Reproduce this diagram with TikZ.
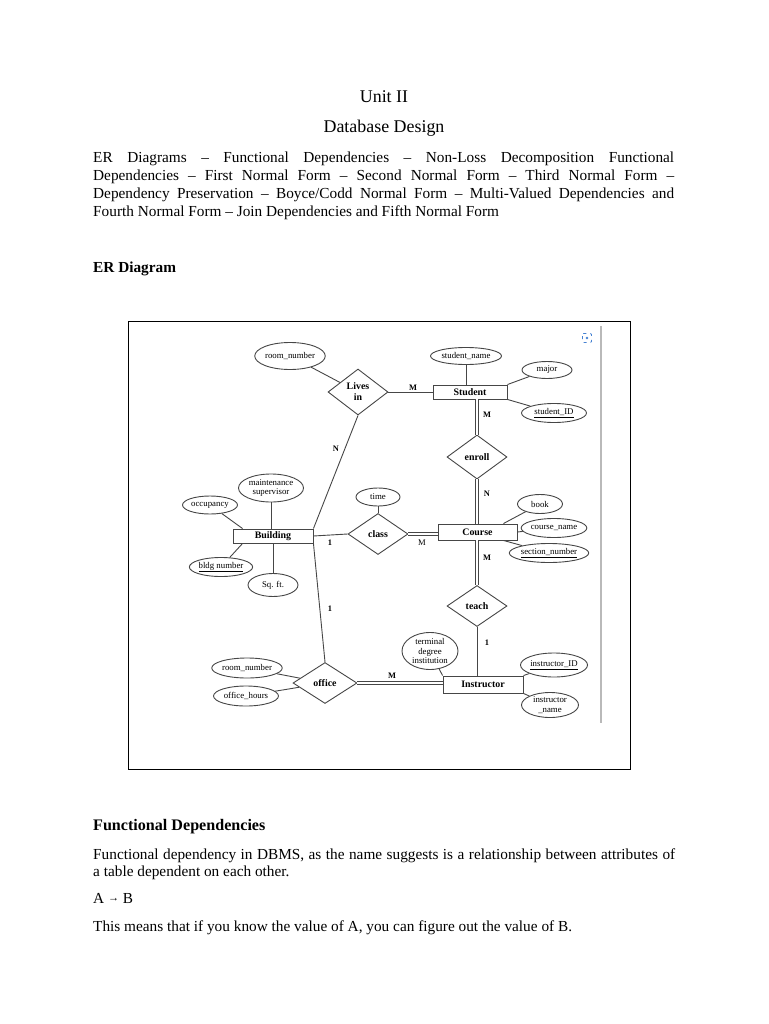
\documentclass[tikz,border=0pt]{standalone}
\usepackage{fontspec}
\setmainfont{Liberation Serif}
\usetikzlibrary{shapes.geometric,calc}
\definecolor{erline}{RGB}{70,70,70}
\definecolor{iconblue}{RGB}{70,130,210}
\tikzset{
  entity/.style = {draw=erline,line width=0.9pt,fill=white,inner sep=0pt,
                   font=\bfseries\fontsize{9.9}{11}\selectfont},
  attr/.style   = {draw=erline,line width=0.9pt,ellipse,inner sep=0pt,align=center,
                   font=\fontsize{8.8}{9.4}\selectfont},
  rel/.style    = {draw=erline,line width=0.9pt,diamond,inner sep=0pt,aspect=1.4,align=center,
                   font=\bfseries\fontsize{9.9}{11}\selectfont},
  link/.style   = {draw=erline,line width=0.9pt},
  dbl/.style    = {draw=erline,line width=0.8pt,double,double distance=2.4pt},
  card/.style   = {inner sep=0pt,font=\bfseries\fontsize{8.4}{9}\selectfont},
  bodyline/.style = {anchor=base west,inner sep=0pt,font=\fontsize{15.3}{18}\selectfont},
}
\begin{document}
\begin{tikzpicture}[x=1pt,y=-1pt]
  \useasboundingbox (0,0) rectangle (768,1024);
  \node[anchor=base,inner sep=0pt,font=\fontsize{17.9}{20}\selectfont] (unit) at (384,103) {Unit II};
  \node[anchor=base,inner sep=0pt,font=\fontsize{17.9}{20}\selectfont] (design) at (384,133) {Database Design};
  \node[bodyline] (p1) at (93,163) {\makebox[581pt][s]{ER Diagrams – Functional Dependencies – Non-Loss Decomposition Functional}};
  \node[bodyline] (p2) at (93,181) {\makebox[581pt][s]{Dependencies – First Normal Form – Second Normal Form – Third Normal Form –}};
  \node[bodyline] (p3) at (93,199) {\makebox[581pt][s]{Dependency Preservation – Boyce/Codd Normal Form – Multi-Valued Dependencies and}};
  \node[bodyline] (p4) at (93,217) {Fourth Normal Form – Join Dependencies and Fifth Normal Form};
  \node[bodyline,font=\bfseries\fontsize{15.3}{18}\selectfont] (erhead) at (93,272) {ER Diagram};

  % frame of the figure
  \draw[line width=1pt] (128,321) rectangle (630,769);
  \draw[gray!55,line width=1.6pt] (601,326) -- (601,723);
  \draw[iconblue,line width=0.9pt,dash pattern=on 3pt off 4pt,dash phase=-1.5pt,rounded corners=1pt] (582.5,333.5) rectangle (591.5,342.5);
  \fill[iconblue] (587,338) circle (1.3);

  % entities
  \node[entity,minimum width=74,minimum height=14] (student) at (470,392) {Student};
  \node[entity,minimum width=79,minimum height=16] (course) at (477.5,532) {Course};
  \node[entity,minimum width=80,minimum height=17] (instr) at (483,684.5) {Instructor};
  \node[entity,minimum width=80,minimum height=14] (bldg) at (273,536) {Building};

  % relationships
  \node[rel,minimum width=60,minimum height=46] (lives) at (358,392) {Lives\\in};
  \node[rel,minimum width=60,minimum height=44] (enroll) at (477,457) {enroll};
  \node[rel,minimum width=60,minimum height=41] (class) at (378,534) {class};
  \node[rel,minimum width=60,minimum height=41] (teach) at (477,606) {teach};
  \node[rel,minimum width=64,minimum height=41] (office) at (325,683) {office};

  % attributes
  \node[attr,minimum width=65,minimum height=27] (roomA) at (290,356) {room\_number};
  \node[attr,minimum width=71,minimum height=17] (sname) at (466,356) {student\_name};
  \node[attr,minimum width=50,minimum height=17] (major) at (547,370) {major};
  \node[attr,minimum width=65,minimum height=19] (sid) at (554,413) {\underline{student\_ID}};
  \node[attr,minimum width=44,minimum height=18] (time) at (378,497) {time};
  \node[attr,minimum width=45,minimum height=19] (book) at (540,504) {book};
  \node[attr,minimum width=65,minimum height=19] (cname) at (554,528) {course\_name};
  \node[attr,minimum width=75,minimum height=19] (secno) at (549,553) {\underline{section\_number}};
  \node[attr,minimum width=56,minimum height=37] (tdi) at (430,651) {terminal\\degree\\institution};
  \node[attr,minimum width=65,minimum height=24] (iid) at (554,665) {\underline{instructor\_ID}};
  \node[attr,minimum width=57,minimum height=25] (iname) at (550,705) {instructor\\\_name};
  \node[attr,minimum width=69,minimum height=20] (roomB) at (247,668) {room\_number};
  \node[attr,minimum width=65,minimum height=20] (ohours) at (246,696) {office\_hours};
  \node[attr,minimum width=65,minimum height=28] (msup) at (271,488) {maintenance\\supervisor};
  \node[attr,minimum width=55,minimum height=18] (occ) at (210,505) {occupancy};
  \node[attr,minimum width=56,minimum height=19] (bnum) at (221,567) {\underline{bldg number}};
  \node[attr,minimum width=50,minimum height=23] (sqft) at (273,585) {Sq. ft.};

  % connectors
  \draw[link] (roomA) -- (lives);
  \draw[link] (lives.east) -- (student.west);
  \draw[link] (sname.south) -- (sname.south |- student.north);
  \draw[link] (student.north east) -- (major);
  \draw[link] (student.south east) -- (sid);
  \draw[dbl] (enroll.north) -- (enroll.north |- student.south);
  \draw[dbl] (enroll.south) -- (enroll.south |- course.north);
  \draw[link] (time.south) -- (class.north);
  \draw[link] (bldg.east) -- (class.west);
  \draw[dbl] (class.east) -- (class.east -| course.west);
  \draw[link] ($(course.north east)+(-14,0)$) -- (book);
  \draw[link] (course.east) -- (cname);
  \draw[link] ($(course.south east)+(-14,0)$) -- (secno);
  \draw[dbl] (teach.north) -- (teach.north |- course.south);
  \draw[link] (teach.south) -- (teach.south |- instr.north);
  \draw[link] (tdi) -- (instr.north west);
  \draw[link] (instr.north east) -- (iid);
  \draw[link] (instr.south east) -- (iname);
  \draw[dbl] (office.east) -- (office.east -| instr.west);
  \draw[link] (roomB) -- (office);
  \draw[link] (ohours) -- (office);
  \draw[link] (lives.south) -- (bldg.north east);
  \draw[link] (bldg.south east) -- (office.north);
  \draw[link] (msup.south) -- (msup.south |- bldg.north);
  \draw[link] (occ) -- ($(bldg.north west)+(10,0)$);
  \draw[link] (bnum) -- ($(bldg.south west)+(10,0)$);
  \draw[link] (sqft.north) -- (sqft.north |- bldg.south);

  % cardinalities
  \node[card] (cLS) at (413,388) {M};
  \node[card] (cSE) at (487,415) {M};
  \node[card] (cEC) at (487,494) {N};
  \node[card] (cCT) at (487,558) {M};
  \node[card] (cTI) at (487,643) {1};
  \node[card] (cOI) at (392,676) {M};
  \node[card] (cLB) at (336,449) {N};
  \node[card] (cBC) at (330,543) {1};
  \node[card,font=\fontsize{8.6}{9}\selectfont] (cCC) at (422,543) {M};
  \node[card] (cBO) at (330,609) {1};

  \node[bodyline,font=\bfseries\fontsize{16.1}{19}\selectfont] (fdhead) at (93,830) {Functional Dependencies};
  \node[bodyline] (f1) at (93,859) {\makebox[582pt][s]{Functional dependency in DBMS, as the name suggests is a relationship between attributes of}};
  \node[bodyline] (f2) at (93,876) {a table dependent on each other.};
  \node[bodyline] (f3) at (93,903) {A \raisebox{1.5pt}{\fontsize{11}{12}\selectfont →} B};
  \node[bodyline] (f4) at (93,931) {This means that if you know the value of A, you can figure out the value of B.};
\end{tikzpicture}
\end{document}
